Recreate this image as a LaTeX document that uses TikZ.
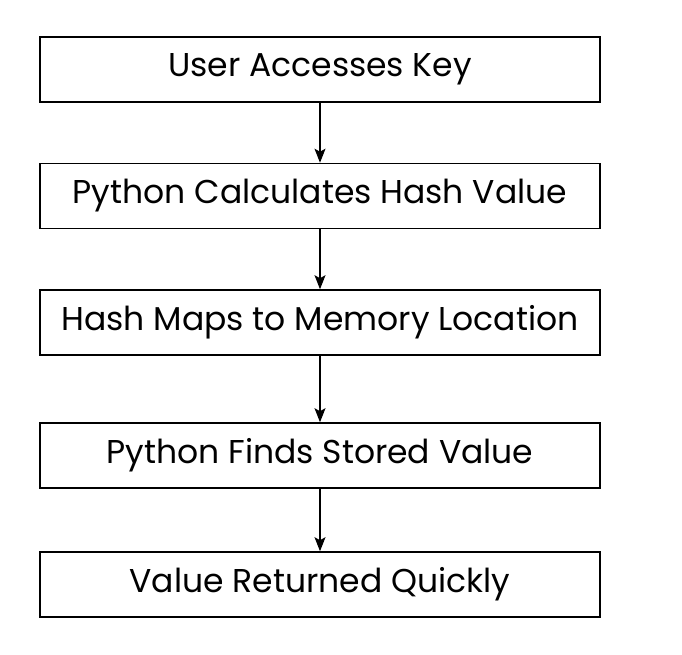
\documentclass[tikz,border=0pt]{standalone}
\usepackage{fontspec}
\setmainfont{Poppins}
\usetikzlibrary{arrows.meta}
\tikzstyle{flowbox}=[draw, line width=1.6pt, minimum width=560pt, minimum height=65pt, inner sep=0pt, font=\fontsize{33}{38}\selectfont]
\providecommand{\flowbox}{\node[flowbox]}
\begin{document}
\begin{tikzpicture}[x=1pt, y=-1pt,
    every edge/.style={draw, line width=1.3pt, -{Stealth[length=14pt,width=11pt,inset=3pt]}}
]
\useasboundingbox (0,0) rectangle (682,654);
\flowbox (access) at (320,69.5) {User Accesses Key};
\flowbox (hash) at (320,196) {Python Calculates Hash Value};
\flowbox (maps) at (320,322.5) {Hash Maps to Memory Location};
\flowbox (finds) at (320,455.5) {Python Finds Stored Value};
\flowbox (quick) at (320,584.5) {Value Returned Quickly};
\path
(access) edge (hash)
(hash) edge (maps)
(maps) edge (finds)
(finds) edge (quick)
;
\end{tikzpicture}
\end{document}
